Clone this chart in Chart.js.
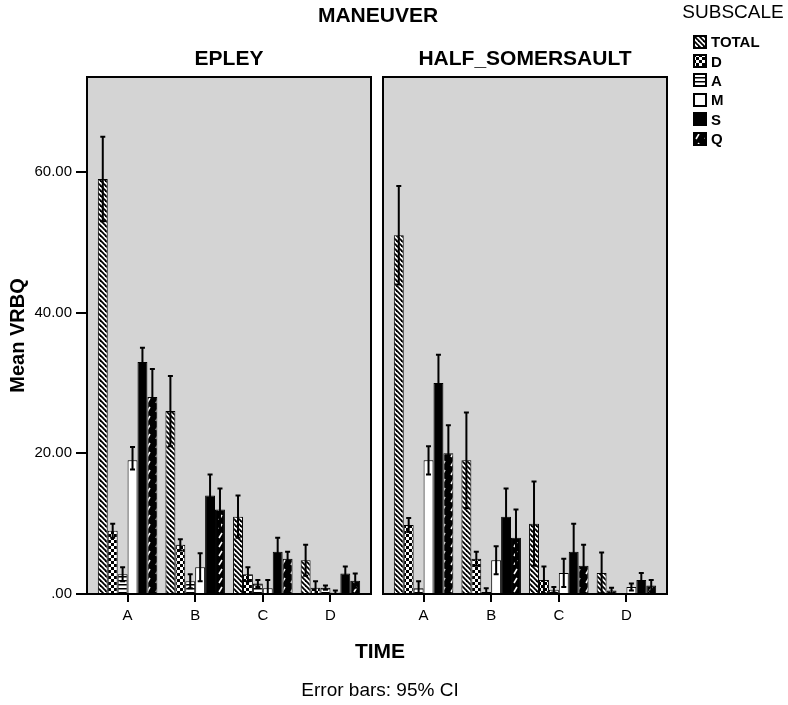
<!DOCTYPE html>
<html>
<head>
<meta charset="utf-8">
<script src="https://cdn.jsdelivr.net/npm/chart.js@4.4.1/dist/chart.umd.min.js"></script>
<style>
  body { margin: 0; background: #fff; }
  #wrap { position: relative; width: 788px; height: 705px; overflow: hidden;
          font-family: "Liberation Sans", Arial, sans-serif; color: #000; }
  #wrap > canvas { position: absolute; top: 0; }
  .lbl { position: absolute; transform: translate(-50%, -50%); white-space: nowrap; }
  .big { font-weight: bold; font-size: 21px; }
  #legend { position: absolute; left: 693px; top: 32px; }
  .item { display: flex; align-items: center; height: 19.4px; font-weight: bold; font-size: 15px; }
  .item canvas { margin-right: 4px; }
</style>
</head>
<body>
<div id="wrap">
  <canvas id="epleyChart" width="376" height="640" style="left:0"></canvas>
  <canvas id="somersaultChart" width="300" height="640" style="left:376px"></canvas>
  <div class="lbl big" style="left:378px;top:15px">MANEUVER</div>
  <div class="lbl big" style="left:229px;top:58px">EPLEY</div>
  <div class="lbl big" style="left:525px;top:58px">HALF_SOMERSAULT</div>
  <div class="lbl" style="left:733px;top:12px;font-size:19px">SUBSCALE</div>
  <div class="lbl big" style="left:380px;top:651px">TIME</div>
  <div class="lbl" style="left:380px;top:690px;font-size:19px">Error bars: 95% CI</div>
  <div id="legend"></div>
</div>
<script>
// categories on the x axis (TIME) and the subscales
const categories = ['A', 'B', 'C', 'D'];
const xTicks = [1, 2, 3, 4];
const subscales = ['TOTAL', 'D', 'A', 'M', 'S', 'Q'];
const yTicks = [0, 20, 40, 60];
const yTickLabels = ['.00', '20.00', '40.00', '60.00'];

// EPLEY: one row per subscale, columns A..D
const epleyMeans = [
    [59.0, 26.0, 11.0, 4.8],
    [9.0, 7.0, 2.8, 0.9],
    [2.8, 1.8, 1.5, 0.9],
    [19.0, 3.8, 0.8, 0.2],
    [33.0, 14.0, 6.0, 2.9],
    [28.0, 12.0, 5.0, 1.9]
];
const epleyUpper = [
    [65.0, 31.0, 14.0, 7.0],
    [10.0, 7.8, 3.8, 1.8],
    [3.8, 2.8, 2.0, 1.2],
    [20.9, 5.8, 2.0, 0.5],
    [35.0, 17.0, 8.0, 3.9],
    [32.0, 15.0, 6.0, 2.9]
];
const epleyLower = [
    [53.0, 21.0, 8.0, 2.6],
    [8.0, 6.2, 1.8, 0.0],
    [1.8, 0.8, 1.0, 0.6],
    [17.7, 1.8, 0.0, 0.0],
    [31.0, 11.0, 4.0, 1.9],
    [24.0, 9.0, 4.0, 0.9]
];

// HALF_SOMERSAULT
const somersaultMeans = [
    [51.0, 19.0, 10.0, 3.0],
    [9.8, 5.0, 2.0, 0.5],
    [0.8, 0.3, 0.6, 0.0],
    [19.0, 4.8, 3.0, 1.0],
    [30.0, 11.0, 6.0, 2.0],
    [20.0, 8.0, 4.0, 1.2]
];
const somersaultUpper = [
    [58.0, 25.8, 16.0, 5.9],
    [10.8, 6.0, 3.9, 0.9],
    [1.8, 0.8, 1.0, 0.0],
    [21.0, 6.8, 5.0, 1.5],
    [34.0, 15.0, 10.0, 3.0],
    [24.0, 12.0, 7.0, 2.0]
];
const somersaultLower = [
    [44.0, 12.2, 4.0, 0.1],
    [8.8, 4.0, 0.1, 0.1],
    [0.0, 0.0, 0.2, 0.0],
    [17.0, 2.8, 1.0, 0.5],
    [26.0, 7.0, 2.0, 1.0],
    [16.0, 4.0, 1.0, 0.4]
];

// fill patterns, SPSS style
function makePattern(kind) {
    const c = document.createElement('canvas');
    const ctx = c.getContext('2d');
    if (kind === 'TOTAL') {
        c.width = c.height = 5;
        ctx.fillStyle = '#fff'; ctx.fillRect(0, 0, 5, 5);
        ctx.strokeStyle = '#000'; ctx.lineWidth = 1.8;
        [[-1, -1, 6, 6], [-1, 4, 1, 6], [4, -1, 6, 1]].forEach(l => {
            ctx.beginPath(); ctx.moveTo(l[0], l[1]); ctx.lineTo(l[2], l[3]); ctx.stroke();
        });
    } else if (kind === 'D') {
        c.width = c.height = 6;
        ctx.fillStyle = '#fff'; ctx.fillRect(0, 0, 6, 6);
        ctx.fillStyle = '#000'; ctx.fillRect(0, 0, 3, 3); ctx.fillRect(3, 3, 3, 3);
    } else if (kind === 'A') {
        c.width = c.height = 4;
        ctx.fillStyle = '#fff'; ctx.fillRect(0, 0, 4, 4);
        ctx.fillStyle = '#000'; ctx.fillRect(0, 0, 4, 1.5);
    } else if (kind === 'M') {
        c.width = c.height = 4;
        ctx.fillStyle = '#fff'; ctx.fillRect(0, 0, 4, 4);
    } else if (kind === 'S') {
        c.width = c.height = 4;
        ctx.fillStyle = '#000'; ctx.fillRect(0, 0, 4, 4);
    } else {
        c.width = c.height = 9;
        ctx.fillStyle = '#000'; ctx.fillRect(0, 0, 9, 9);
        ctx.strokeStyle = '#fff'; ctx.lineWidth = 1.5;
        ctx.beginPath(); ctx.moveTo(3, 7); ctx.lineTo(6, 2); ctx.stroke();
    }
    return ctx.createPattern(c, 'repeat');
}
const fills = subscales.map(makePattern);

// grey panel with black frame
const panel = {
    id: 'panel',
    beforeDraw(chart) {
        const a = chart.chartArea, ctx = chart.ctx;
        ctx.save();
        ctx.fillStyle = '#d4d4d4';
        ctx.fillRect(a.left, a.top, a.right - a.left, a.bottom - a.top);
        ctx.restore();
    },
    afterDraw(chart) {
        const a = chart.chartArea, ctx = chart.ctx;
        ctx.save();
        ctx.strokeStyle = '#000'; ctx.lineWidth = 2;
        ctx.strokeRect(a.left, a.top, a.right - a.left, a.bottom - a.top);
        ctx.restore();
    }
};

// 95% CI whiskers
const errorBars = {
    id: 'errorBars',
    afterDatasetsDraw(chart) {
        const ctx = chart.ctx, a = chart.chartArea, y = chart.scales.y;
        ctx.save();
        ctx.beginPath(); ctx.rect(a.left, a.top, a.right - a.left, a.bottom - a.top); ctx.clip();
        ctx.strokeStyle = '#000'; ctx.lineWidth = 2;
        chart.data.datasets.forEach((ds, i) => {
            chart.getDatasetMeta(i).data.forEach((bar, j) => {
                const hi = y.getPixelForValue(ds.upper[j]);
                const lo = y.getPixelForValue(ds.lower[j]);
                ctx.beginPath();
                ctx.moveTo(bar.x, hi); ctx.lineTo(bar.x, lo);
                ctx.moveTo(bar.x - 2.5, hi); ctx.lineTo(bar.x + 2.5, hi);
                ctx.moveTo(bar.x - 2.5, lo); ctx.lineTo(bar.x + 2.5, lo);
                ctx.stroke();
            });
        });
        ctx.restore();
    }
};

function makeChart(id, means, lower, upper, showY, padding) {
    return new Chart(document.getElementById(id), {
        type: 'bar',
        data: {
            datasets: subscales.map((s, i) => ({
                label: s,
                data: means[i].map((v, j) => ({ x: xTicks[j], y: v })),
                lower: lower[i],
                upper: upper[i],
                backgroundColor: fills[i],
                borderColor: '#000',
                borderWidth: 1,
                categoryPercentage: 0.88,
                barPercentage: 1.0
            }))
        },
        options: {
            responsive: false,
            animation: false,
            layout: { padding: padding },
            plugins: { legend: { display: false }, tooltip: { enabled: false } },
            scales: {
                x: {
                    type: 'linear',
                    offset: false,
                    min: 0.4,
                    max: 4.6,
                    afterBuildTicks: s => { s.ticks = xTicks.map(v => ({ value: v })); },
                    afterFit: s => { s.height = 30; },
                    ticks: {
                        callback: (v, i) => categories[i],
                        color: '#000',
                        padding: 5,
                        maxRotation: 0,
                        font: { family: 'Liberation Sans', size: 15 }
                    },
                    grid: { offset: false, drawOnChartArea: false, tickLength: 8, color: '#000', lineWidth: 2 },
                    border: { display: false }
                },
                y: {
                    display: showY,
                    min: 0,
                    max: 73.5,
                    afterBuildTicks: s => { s.ticks = yTicks.map(v => ({ value: v })); },
                    afterFit: s => { s.width = showY ? 87 : 0; },
                    ticks: {
                        callback: (v, i) => yTickLabels[i],
                        color: '#000',
                        padding: 4,
                        font: { family: 'Liberation Sans', size: 15 }
                    },
                    grid: { drawOnChartArea: false, tickLength: 11, color: '#000', lineWidth: 2 },
                    border: { display: false },
                    title: {
                        display: true,
                        text: 'Mean VRBQ',
                        color: '#000',
                        padding: { top: 6, bottom: 4 },
                        font: { family: 'Liberation Sans', size: 20, weight: 'bold' }
                    }
                }
            }
        },
        plugins: [panel, errorBars]
    });
}

makeChart('epleyChart', epleyMeans, epleyLower, epleyUpper, true,
    { top: 77, right: 5, bottom: 16, left: 0 });
makeChart('somersaultChart', somersaultMeans, somersaultLower, somersaultUpper, false,
    { top: 77, right: 9, bottom: 16, left: 7 });

// legend with pattern swatches
const legend = document.getElementById('legend');
subscales.forEach((s, i) => {
    const row = document.createElement('div');
    row.className = 'item';
    const sw = document.createElement('canvas');
    sw.width = 14; sw.height = 14;
    const c = sw.getContext('2d');
    c.fillStyle = fills[i]; c.fillRect(0, 0, 14, 14);
    c.strokeStyle = '#000'; c.lineWidth = 2; c.strokeRect(1, 1, 12, 12);
    row.appendChild(sw);
    row.appendChild(document.createTextNode(s));
    legend.appendChild(row);
});
</script>
</body>
</html>
